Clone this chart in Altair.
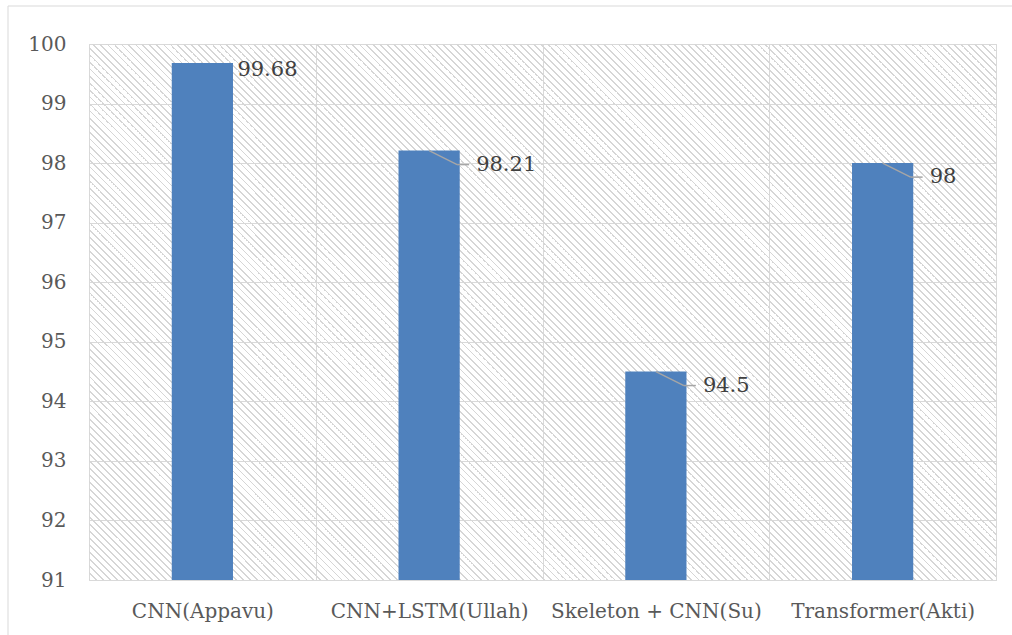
import altair as alt
import pandas as pd

# ---- data ----
categories = ["CNN(Appavu)", "CNN+LSTM(Ullah)", "Skeleton + CNN(Su)", "Transformer(Akti)"]
values = [99.68, 98.21, 94.5, 98]
label_texts = ["99.68", "98.21", "94.5", "98"]
y_ticks = [91, 92, 93, 94, 95, 96, 97, 98, 99, 100]
y_min, y_max = 91, 100
no_leader = ["CNN(Appavu)"]

# ---- layout / style ----
W, H = 907, 536
FONT = "DejaVu Serif"
BAR = "#4F81BD"
GRID = "#d9d9d9"

df = pd.DataFrame({"cat": categories, "value": values, "label": label_texts})

# hatch pattern as a striped linear gradient (45deg lines, down-right)
period, stripe, total = 7.0, 1.5, float(W + H)
stops = []
pos = 0.0
clear = "rgba(255,255,255,0)"
hatch = "#d6d6d6"
while pos < total:
    a = pos / total
    b = min(pos + stripe, total) / total
    c = min(pos + period, total) / total
    stops += [
        {"offset": a, "color": hatch},
        {"offset": b, "color": hatch},
        {"offset": b, "color": clear},
        {"offset": c, "color": clear},
    ]
    pos += period
k = (W + H) / (W * W + H * H)
grad = {"gradient": "linear", "x1": 0, "y1": 1, "x2": k * W, "y2": 1 - k * H, "stops": stops}

base = alt.Chart(df)

x_enc = alt.X(
    "cat:N",
    sort=categories,
    scale=alt.Scale(paddingInner=0, paddingOuter=0),
    axis=alt.Axis(
        title=None, labelAngle=0, ticks=False, tickSize=0, labelPadding=21,
        labelFontSize=20, labelFont=FONT, labelColor="#595959", labelLimit=0,
        domainColor=GRID, grid=True, gridColor=GRID, tickBand="extent",
    ),
)
y_enc = alt.Y(
    "value:Q",
    scale=alt.Scale(domain=[y_min, y_max], nice=False, zero=False),
    axis=alt.Axis(
        title=None, values=y_ticks, format="d", ticks=False, tickSize=0, domain=False,
        labelPadding=23, labelFontSize=20, labelFont=FONT, labelColor="#595959",
        grid=True, gridColor=GRID,
    ),
)

hatch_layer = alt.Chart(pd.DataFrame({"a": [0]})).mark_rect(fill=grad).encode(
    x=alt.value(0), x2=alt.value(W), y=alt.value(0), y2=alt.value(H)
)

bars = base.mark_bar(color=BAR, width={"band": 0.27}).encode(
    x=x_enc, y=y_enc, y2=alt.datum(y_min)
)

lead = base.transform_filter(~alt.FieldOneOfPredicate(field="cat", oneOf=no_leader))

diag = lead.mark_rule(color="#a6a6a6", strokeWidth=1.5, x2Offset=28, y2Offset=14).encode(
    x=alt.X("cat:N", sort=categories), x2="cat:N",
    y="value:Q", y2="value:Q",
)
horiz = lead.mark_rule(color="#a6a6a6", strokeWidth=1.5, xOffset=28, x2Offset=40,
                       yOffset=14, y2Offset=14).encode(
    x=alt.X("cat:N", sort=categories), x2="cat:N",
    y="value:Q", y2="value:Q",
)
lead_text = lead.mark_text(align="left", baseline="middle", dx=47, dy=14,
                           font=FONT, fontSize=21, color="#404040").encode(
    x=alt.X("cat:N", sort=categories), y="value:Q", text="label:N"
)
plain_text = base.transform_filter(
    alt.FieldOneOfPredicate(field="cat", oneOf=no_leader)
).mark_text(align="left", baseline="middle", dx=35, dy=7,
            font=FONT, fontSize=21, color="#404040").encode(
    x=alt.X("cat:N", sort=categories), y="value:Q", text="label:N"
)

frame = alt.Chart(pd.DataFrame({"a": [0]})).mark_rect(
    filled=False, stroke=GRID, strokeWidth=1
).encode(
    x=alt.value(-81), x2=alt.value(W + 60), y=alt.value(-38), y2=alt.value(H + 120)
)

chart = alt.layer(hatch_layer, bars, diag, horiz, lead_text, plain_text, frame).properties(
    width=W, height=H,
    padding={"left": 89, "top": 44, "right": 16, "bottom": 55},
    autosize=alt.AutoSizeParams(type="none"),
    background="white",
).configure_view(stroke=GRID, strokeWidth=1)

chart.save("out.html", embed_options={"renderer": "svg", "actions": False})
